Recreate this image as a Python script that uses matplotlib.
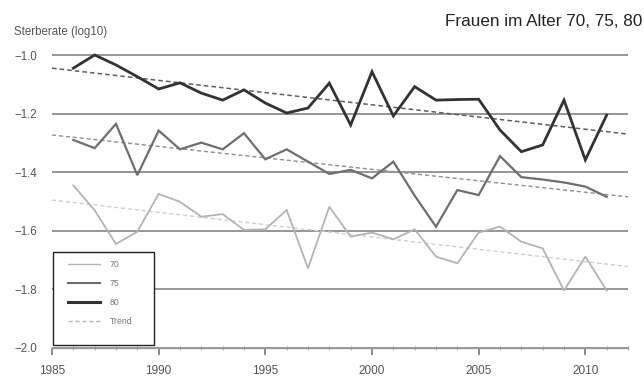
import matplotlib
matplotlib.use("Agg")
import matplotlib.pyplot as plt
from matplotlib.patches import Rectangle
from matplotlib.lines import Line2D
from matplotlib.ticker import MultipleLocator

# ---- data ----
years = list(range(1986, 2012))
age70 = [-1.445, -1.53, -1.645, -1.603, -1.474, -1.501, -1.552, -1.543, -1.597, -1.595,
         -1.529, -1.728, -1.518, -1.620, -1.606, -1.629, -1.595, -1.688, -1.711, -1.606,
         -1.586, -1.637, -1.660, -1.804, -1.688, -1.804]
age75 = [-1.290, -1.318, -1.235, -1.410, -1.258, -1.322, -1.299, -1.322, -1.267, -1.356,
         -1.322, -1.364, -1.406, -1.392, -1.421, -1.364, -1.480, -1.586, -1.461, -1.478,
         -1.345, -1.417, -1.425, -1.435, -1.449, -1.484]
age80 = [-1.045, -1.000, -1.034, -1.074, -1.116, -1.095, -1.130, -1.154, -1.119, -1.164,
         -1.198, -1.181, -1.096, -1.239, -1.057, -1.208, -1.108, -1.154, -1.152, -1.151,
         -1.256, -1.330, -1.307, -1.154, -1.358, -1.205]
trend_years = [1985, 2012]
trend70 = [-1.495, -1.722]
trend75 = [-1.273, -1.484]
trend80 = [-1.045, -1.270]
legend_labels = ["70", "75", "80", "Trend"]
xticks = [1985, 1990, 1995, 2000, 2005, 2010]
yticks = [-2.0, -1.8, -1.6, -1.4, -1.2, -1.0]
title = "Frauen im Alter 70, 75, 80"
ylabel = "Sterberate (log10)"

plt.rcParams['font.family'] = ['Liberation Sans', 'DejaVu Sans']

W, H = 644, 383
fig = plt.figure(figsize=(W / 100, H / 100), dpi=100)
ax_l, ax_r, ax_b, ax_t = 52, 628, 348, 46
ax = fig.add_axes([ax_l / W, (H - ax_b) / H, (ax_r - ax_l) / W, (ax_b - ax_t) / H])

c70, c75, c80 = '#b4b4b4', '#6e6e6e', '#333333'

# grid
ax.set_yticks(yticks)
ax.set_yticklabels(["\u2212%.1f" % abs(v) for v in yticks])
ax.yaxis.grid(True, color='#8e8e8e', lw=1.3)
ax.set_axisbelow(True)

# trends
ax.plot(trend_years, trend70, color='#d6ccce', lw=1.0, ls=(0, (3, 2)), clip_on=False)
ax.plot(trend_years, trend75, color='#948e8f', lw=1.0, ls=(0, (3, 2)), clip_on=False)
ax.plot(trend_years, trend80, color='#625c5d', lw=1.1, ls=(0, (3, 2)), clip_on=False)

# series
ax.plot(years, age70, color=c70, lw=1.3, solid_joinstyle='miter')
ax.plot(years, age75, color=c75, lw=1.6, solid_joinstyle='miter')
ax.plot(years, age80, color=c80, lw=2.0, solid_joinstyle='miter')

ax.set_xlim(1985, 2012)
ax.set_ylim(-2.0, -2.0 + (ax_b - ax_t) / 293)

for s in ['top', 'right', 'left']:
    ax.spines[s].set_visible(False)
ax.spines['bottom'].set_color('#9a9a9a')
ax.spines['bottom'].set_linewidth(1.0)

ax.set_xticks(xticks)
ax.set_xticklabels([str(x) for x in xticks])
ax.xaxis.set_minor_locator(MultipleLocator(1))
ax.tick_params(axis='x', which='major', direction='out', length=5, width=1.2,
               color='#777777', labelsize=8.5, labelcolor='#555555', pad=7)
ax.tick_params(axis='x', which='minor', direction='inout', length=3, width=0.8,
               color='#aaaaaa')
ax.tick_params(axis='y', length=0, pad=11, labelsize=8.3, labelcolor='#555555')

# legend box
ax.add_patch(Rectangle(((53 - ax_l) / (ax_r - ax_l), (ax_b - 345) / (ax_b - ax_t)),
                       101 / (ax_r - ax_l), 93 / (ax_b - ax_t),
                       transform=ax.transAxes, facecolor='white', edgecolor='#222222',
                       lw=1.0, zorder=5, clip_on=False))
handles = [Line2D([], [], color=c70, lw=1.0),
           Line2D([], [], color=c75, lw=1.5),
           Line2D([], [], color=c80, lw=2.2),
           Line2D([], [], color='#b8b0b2', lw=1.0, ls=(0, (3, 2)))]
leg = ax.legend(handles, legend_labels, loc='upper left',
                bbox_to_anchor=((68 - ax_l) / (ax_r - ax_l), (ax_b - 260) / (ax_b - ax_t)),
                frameon=False, fontsize=6.3, handlelength=3.6, handletextpad=1.2,
                labelspacing=1.15, borderpad=0, borderaxespad=0)
for t in leg.get_texts():
    t.set_color('#777777')
leg.set_zorder(6)

fig.text(642 / W, 1 - 21 / H, title, ha='right', va='center', fontsize=12.3, color='#222222')
fig.text(14 / W, 1 - 32 / H, ylabel, ha='left', va='center', fontsize=8.3, color='#555555')

fig.savefig('out.png', dpi=100)
